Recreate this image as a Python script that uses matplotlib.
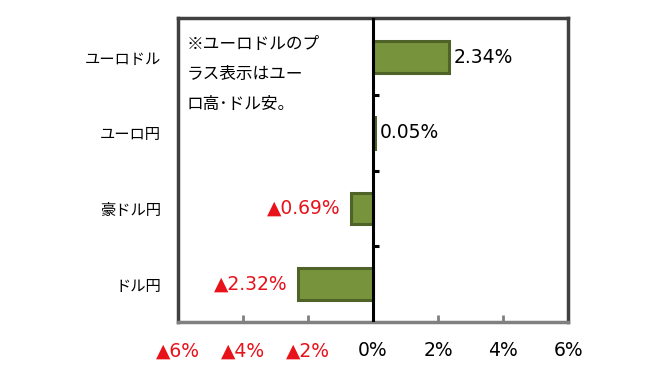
import numpy as np
import matplotlib
matplotlib.use("Agg")
import matplotlib.pyplot as plt

plt.rcParams['font.family'] = ['Noto Sans CJK JP', 'DejaVu Sans']
NUM_FONT = ['DejaVu Sans', 'Noto Sans CJK JP']   # wide digits like the original

# ==========================
# DATA
# ==========================
categories = ["ユーロドル", "ユーロ円", "豪ドル円", "ドル円"]
changes = [2.34, 0.05, -0.69, -2.32]          # % change
xticks = [-6, -4, -2, 0, 2, 4, 6]
note = "※ユーロドルのプ\nラス表示はユー\nロ高･ドル安。"

BAR_COLOR = "#77933C"
EDGE_COLOR = "#4F6228"
RED = "#E8121B"


def pct_label(v, digits=2):
    # negative numbers are written with ▲ instead of a minus sign
    s = f"{abs(v):.{digits}f}%"
    return ("▲" + s) if v < 0 else s


# ==========================
# PLOT
# ==========================
fig = plt.figure(figsize=(6.66, 3.8), dpi=100)
ax = fig.add_axes([0.267, 0.153, 0.586, 0.8])

y = np.arange(len(categories))
ax.barh(y, changes, height=0.42, color=BAR_COLOR, edgecolor=EDGE_COLOR,
        linewidth=2.2, zorder=2)

ax.set_xlim(-6, 6)
ax.set_ylim(3.5, -0.52)

# zero line with small ticks at the category boundaries
ax.axvline(0, color="black", lw=2.2, zorder=3)
ax.hlines(y[:-1] + 0.5, 0, 0.19, color="black", lw=2.2, zorder=3)

# value labels
for yi, v in zip(y, changes):
    if v >= 0:
        ax.text(v + 0.15, yi, pct_label(v), va="center", ha="left",
                fontsize=13.5, color="black", family=NUM_FONT)
    else:
        ax.text(v - 0.3, yi, pct_label(v), va="center", ha="right",
                fontsize=13.5, color=RED, family=NUM_FONT)

# note in upper-left corner
ax.text(0.022, 0.94, note, transform=ax.transAxes, va="top", ha="left",
        fontsize=12, linespacing=2.0)

# axes styling
ax.set_yticks(y)
ax.set_yticklabels(categories, fontsize=11)
ax.tick_params(axis="y", length=0, pad=12)

ax.set_xticks(xticks)
ax.set_xticklabels([pct_label(t, 0) for t in xticks], fontsize=13.5,
                   family=NUM_FONT)
for lbl, t in zip(ax.get_xticklabels(), xticks):
    lbl.set_color(RED if t < 0 else "black")
ax.tick_params(axis="x", direction="in", length=5, width=2, color="#808080",
               pad=14)

for side in ["left", "top", "right"]:
    ax.spines[side].set_color("#404040")
    ax.spines[side].set_linewidth(2.5)
ax.spines["bottom"].set_color("#808080")
ax.spines["bottom"].set_linewidth(2.5)

fig.savefig("out.png", dpi=100)
